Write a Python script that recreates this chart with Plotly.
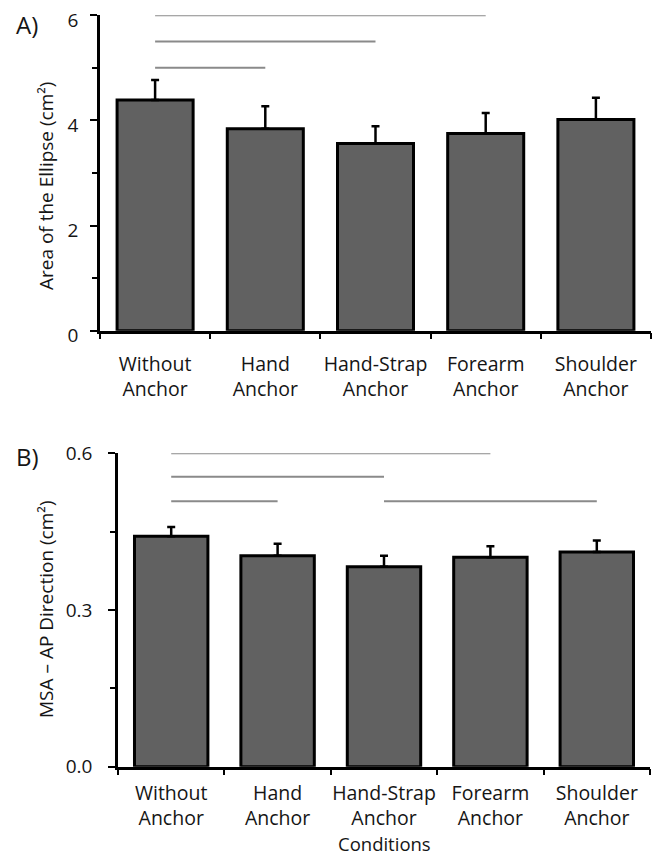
import plotly.graph_objects as go

# ---------------- data ----------------
conditions = ["Without<br>Anchor", "Hand<br>Anchor", "Hand-Strap<br>Anchor",
              "Forearm<br>Anchor", "Shoulder<br>Anchor"]

area_mean = [4.39, 3.84, 3.56, 3.75, 4.02]
area_se = [0.38, 0.43, 0.33, 0.39, 0.41]

msa_mean = [0.441, 0.404, 0.383, 0.401, 0.411]
msa_se = [0.018, 0.023, 0.021, 0.021, 0.022]

# significance bars: (from index, to index, height)
sig_area = [(0, 3, 6.0), (0, 2, 5.5), (0, 1, 5.0)]
sig_msa = [(0, 3, 0.6), (0, 2, 0.555), (0, 1, 0.508), (2, 4, 0.508)]

area_ticks = [0, 2, 4, 6]
msa_ticks = [0.0, 0.3, 0.6]
msa_ticktext = ["0.0", "0.3", "0.6"]

# ---------------- figure ----------------
OFF = 8                      # default page body margin
W, H = 662 - OFF, 855 - OFF
FONT = "Open Sans"
TXT = "#151515"
BAR_FILL = "#616161"
SIG_COL = "#8a8a8a"

fig = go.Figure()

def add_bars(means, ses, xa, ya):
    fig.add_trace(go.Bar(
        x=conditions, y=means, xaxis=xa, yaxis=ya,
        marker=dict(color=BAR_FILL, line=dict(color="black", width=3)),
        error_y=dict(type="data", symmetric=False, array=ses,
                     arrayminus=[0] * len(ses), color="black",
                     thickness=2.5, width=4),
        hoverinfo="skip",
    ))

def add_sig(sigs, xa, ya):
    for (i, j, h) in sigs:
        fig.add_trace(go.Scatter(
            x=[conditions[i], conditions[j]], y=[h, h], xaxis=xa, yaxis=ya,
            mode="lines", line=dict(color=SIG_COL, width=2),
            cliponaxis=False, hoverinfo="skip",
        ))

add_bars(area_mean, area_se, "x", "y")
add_bars(msa_mean, msa_se, "x2", "y2")
add_sig(sig_area, "x", "y")
add_sig(sig_msa, "x2", "y2")

def px_x(p):
    return (p - OFF) / W

def px_y(p):
    return 1 - (p - OFF) / H

xcommon = dict(type="category", showline=True, linecolor="black", linewidth=2.5,
               ticks="outside", tickson="boundaries", ticklen=6, tickwidth=2,
               tickcolor="black", showgrid=False, range=[-0.5, 4.5],
               automargin=False, zeroline=False, tickangle=0,
               ticklabeloverflow="allow",
               tickfont=dict(family=FONT, size=19.5, color=TXT), fixedrange=True)
ycommon = dict(showline=True, linecolor="black", linewidth=2.5, ticks="outside",
               ticklen=7, tickwidth=2, tickcolor="black", showgrid=False,
               zeroline=False, automargin=False, ticklabeloverflow="allow",
               tickfont=dict(family=FONT, size=19, color=TXT),
               fixedrange=True)

fig.update_layout(
    template="none",
    width=W, height=H,
    margin=dict(l=0, r=0, t=0, b=0, pad=0),
    paper_bgcolor="white", plot_bgcolor="white",
    showlegend=False, bargap=0.31,
    font=dict(family=FONT, color=TXT),
    xaxis=dict(domain=[px_x(100), px_x(651)], anchor="y",
               ticklabelstandoff=14, **xcommon),
    yaxis=dict(domain=[px_y(330.7), px_y(15.3)], anchor="x", range=[0, 6],
               tickvals=area_ticks, ticklabelstandoff=8, ticklabelshift=5,
               minor=dict(dtick=1, tick0=0, ticks="outside", ticklen=5,
                          tickwidth=2, tickcolor="black"),
               **ycommon),
    xaxis2=dict(domain=[px_x(118), px_x(650)], anchor="y2",
                ticklabelstandoff=7, **xcommon),
    yaxis2=dict(domain=[px_y(766.7), px_y(453.3)], anchor="x2", range=[0, 0.6],
                tickvals=msa_ticks, ticktext=msa_ticktext, ticklabelstandoff=12,
                minor=dict(dtick=0.15, tick0=0, ticks="outside", ticklen=5,
                           tickwidth=2, tickcolor="black"),
                **ycommon),
    annotations=[
        dict(text="Area of the Ellipse (cm²)", xref="paper", yref="paper",
             x=px_x(46), y=px_y(186), textangle=-90, showarrow=False,
             xanchor="center", yanchor="middle",
             font=dict(family=FONT, size=19, color=TXT)),
        dict(text="MSA – AP Direction (cm²)", xref="paper", yref="paper",
             x=px_x(46), y=px_y(610), textangle=-90, showarrow=False,
             xanchor="center", yanchor="middle",
             font=dict(family=FONT, size=19, color=TXT)),
        dict(text="A)", xref="paper", yref="paper", x=px_x(14), y=px_y(24),
             showarrow=False, xanchor="left", yanchor="middle",
             font=dict(family=FONT, size=24, color=TXT)),
        dict(text="B)", xref="paper", yref="paper", x=px_x(14), y=px_y(456),
             showarrow=False, xanchor="left", yanchor="middle",
             font=dict(family=FONT, size=24, color=TXT)),
        dict(text="Conditions", xref="paper", yref="paper", x=px_x(384),
             y=px_y(843), showarrow=False, xanchor="center", yanchor="middle",
             font=dict(family=FONT, size=18.5, color=TXT)),
    ],
)

fig.write_html("out.html")
